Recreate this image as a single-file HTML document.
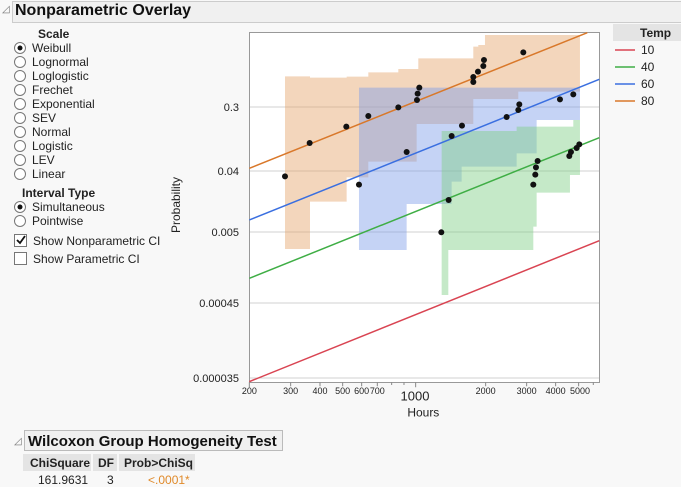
<!DOCTYPE html>
<html><head><style>
body{margin:0;width:681px;height:487px;background:#f8f8f8;font-family:"Liberation Sans",sans-serif;position:relative;overflow:hidden}
.a{position:absolute;white-space:nowrap}
.r{font-size:12px;color:#222}
</style></head><body>
<div class="a" style="left:12px;top:1px;width:669px;height:20px;border:1px solid #ccc;border-right:none;background:#f0f0f0"></div>
<div class="a" style="left:2px;top:4px;font-size:10px;color:#777">◿</div>
<div class="a" style="left:15px;top:2px;font-size:16px;font-weight:bold;color:#111">Nonparametric Overlay</div>
<svg class="a" style="left:0;top:0" width="681" height="487">
<g font-family="Liberation Sans" font-size="12" fill="#222">
<text x="38" y="38" font-weight="bold">Scale</text>
<g fill="#fff" stroke="#777"><circle cx="20" cy="48" r="5.5"/><circle cx="20" cy="62" r="5.5"/><circle cx="20" cy="76" r="5.5"/><circle cx="20" cy="90" r="5.5"/><circle cx="20" cy="104" r="5.5"/><circle cx="20" cy="118" r="5.5"/><circle cx="20" cy="132" r="5.5"/><circle cx="20" cy="146" r="5.5"/><circle cx="20" cy="160" r="5.5"/><circle cx="20" cy="174" r="5.5"/><circle cx="20" cy="207" r="5.5"/><circle cx="20" cy="221" r="5.5"/></g>
<circle cx="20" cy="48" r="2.5" fill="#111"/><circle cx="20" cy="207" r="2.5" fill="#111"/>
<text x="32" y="52">Weibull</text><text x="32" y="66">Lognormal</text><text x="32" y="80">Loglogistic</text><text x="32" y="94">Frechet</text><text x="32" y="108">Exponential</text><text x="32" y="122">SEV</text><text x="32" y="136">Normal</text><text x="32" y="150">Logistic</text><text x="32" y="164">LEV</text><text x="32" y="178">Linear</text>
<text x="22" y="197" font-weight="bold">Interval Type</text>
<text x="32" y="211">Simultaneous</text><text x="32" y="225">Pointwise</text>
<rect x="14.5" y="234.5" width="12" height="12" fill="#fff" stroke="#777"/>
<path d="M17 240 l3 3 l5 -7" stroke="#111" stroke-width="1.8" fill="none"/>
<rect x="14.5" y="252.5" width="12" height="12" fill="#fff" stroke="#777"/>
<text x="33" y="245">Show Nonparametric CI</text><text x="33" y="263">Show Parametric CI</text>
<g text-anchor="end" font-size="11"><text x="239" y="111">0.3</text><text x="239" y="175">0.04</text><text x="239" y="236">0.005</text><text x="239" y="307">0.00045</text><text x="239" y="382">0.000035</text></g>
<text transform="translate(180,205) rotate(-90)" text-anchor="middle" font-size="12">Probability</text>
</g>
<rect x="249.5" y="32.5" width="350" height="350" fill="#fff" stroke="#999"/>
<g stroke="#d0d0d0"><line x1="250" x2="599" y1="107" y2="107"/><line x1="250" x2="599" y1="171" y2="171"/><line x1="250" x2="599" y1="232" y2="232"/><line x1="250" x2="599" y1="303" y2="303"/><line x1="250" x2="599" y1="378" y2="378"/></g>
<g transform="translate(240,20) scale(0.3333)">
<path fill="#e5a56a" fill-opacity="0.45" d="M135 169H210V173H320V170H385V157H475V147H535V115H700V80H715V75H735V45H1020V215H835V237H700V312H530V425H385V472H320V545H210V687H135Z"/>
<path fill="#7f9ee8" fill-opacity="0.45" d="M357 203H1020V300H890V400H830V440H665V485H635V552H500V690H357Z"/>
<path fill="#7fcf85" fill-opacity="0.45" d="M605 333H830V320H1000V300H1020V465H990V518H890V620H880V690H625V825H605Z"/>
<g stroke-width="4.5" fill="none">
<line x1="28" y1="1085" x2="1078" y2="662" stroke="#d94452"/>
<line x1="28" y1="775" x2="1078" y2="353" stroke="#3fae45"/>
<line x1="28" y1="600" x2="1078" y2="178" stroke="#3a6fe0"/>
<line x1="28" y1="445" x2="1042" y2="38" stroke="#d9782a"/>
</g>
<g fill="#111">
<circle cx="135" cy="469" r="9"/><circle cx="209" cy="369" r="9"/><circle cx="319" cy="320" r="9"/><circle cx="385" cy="288" r="9"/><circle cx="475" cy="262" r="9"/><circle cx="531" cy="240" r="9"/><circle cx="533" cy="221" r="9"/><circle cx="538" cy="203" r="9"/><circle cx="700" cy="186" r="9"/><circle cx="700" cy="171" r="9"/><circle cx="714" cy="155" r="9"/><circle cx="730" cy="138" r="9"/><circle cx="732" cy="120" r="9"/><circle cx="850" cy="97" r="9"/><circle cx="960" cy="238" r="9"/><circle cx="1000" cy="223" r="9"/>
<circle cx="357" cy="494" r="9"/><circle cx="500" cy="396" r="9"/><circle cx="635" cy="348" r="9"/><circle cx="666" cy="317" r="9"/><circle cx="800" cy="291" r="9"/><circle cx="835" cy="270" r="9"/><circle cx="838" cy="253" r="9"/>
<circle cx="604" cy="637" r="9"/><circle cx="626" cy="540" r="9"/><circle cx="880" cy="494" r="9"/><circle cx="886" cy="464" r="9"/><circle cx="888" cy="442" r="9"/><circle cx="893" cy="423" r="9"/><circle cx="988" cy="408" r="9"/><circle cx="993" cy="396" r="9"/><circle cx="1010" cy="384" r="9"/><circle cx="1018" cy="373" r="9"/>
</g>
<g stroke="#888" stroke-width="3"><path d="M28 1087v15M152 1087v12M240 1087v12M308 1087v12M365 1087v12M412 1087v12M455 1087v8M492 1087v8M527 1087v15M737 1087v12M860 1087v12M947 1087v12M1016 1087v12M1060 1087v8"/></g>
<g font-family="Liberation Sans" font-size="27" fill="#222" text-anchor="middle"><text x="28" y="1122">200</text><text x="152" y="1122">300</text><text x="240" y="1122">400</text><text x="308" y="1122">500</text><text x="365" y="1122">600</text><text x="412" y="1122">700</text><text x="737" y="1122">2000</text><text x="860" y="1122">3000</text><text x="947" y="1122">4000</text><text x="1020" y="1122">5000</text><text x="525" y="1142" font-size="39">1000</text><text x="550" y="1190" font-size="36">Hours</text></g>
</g>
<rect x="613" y="24" width="68" height="17" fill="#e4e4e4"/>
<g font-family="Liberation Sans" font-size="12" fill="#222"><text x="640" y="37" font-weight="bold">Temp</text><text x="641" y="54">10</text><text x="641" y="71">40</text><text x="641" y="88">60</text><text x="641" y="105">80</text></g>
<g stroke-width="1.5"><line x1="615" x2="635" y1="50" y2="50" stroke="#d94452"/><line x1="615" x2="635" y1="67" y2="67" stroke="#3fae45"/><line x1="615" x2="635" y1="84" y2="84" stroke="#3a6fe0"/><line x1="615" x2="635" y1="101" y2="101" stroke="#d9782a"/></g>
<rect x="24.5" y="430.5" width="258" height="20" fill="#f0f0f0" stroke="#bbb"/>
<text x="14" y="444" font-size="10" fill="#777">◿</text>
<text x="28" y="446" font-family="Liberation Sans" font-size="15" font-weight="bold" fill="#111">Wilcoxon Group Homogeneity Test</text>
<rect x="23" y="454" width="68" height="17" fill="#e4e4e4"/><rect x="93" y="454" width="24" height="17" fill="#e4e4e4"/><rect x="119" y="454" width="76" height="17" fill="#e4e4e4"/>
<g font-family="Liberation Sans" font-size="12" fill="#222"><text x="30" y="467" font-weight="bold">ChiSquare</text><text x="98" y="467" font-weight="bold">DF</text><text x="124" y="467" font-weight="bold">Prob&gt;ChiSq</text>
<text x="38" y="484">161.9631</text><text x="107" y="484">3</text><text x="148" y="484" fill="#e08a2a">&lt;.0001*</text></g>
</svg>
</body></html>
